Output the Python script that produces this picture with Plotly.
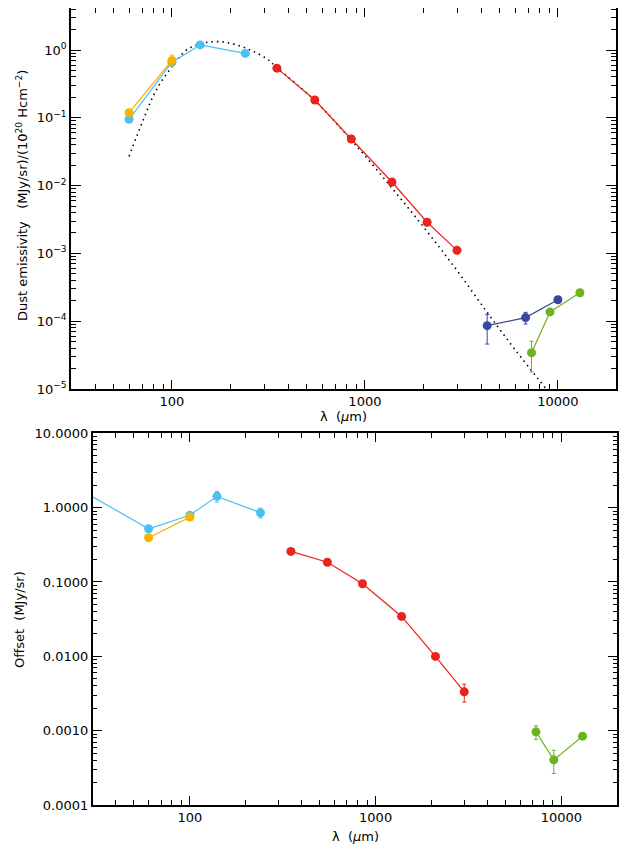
import plotly.graph_objects as go

# ---------------- data: top panel (dust emissivity) ----------------
cyan_lam = [60, 100, 140, 240]
cyan_emis = [0.095, 0.66, 1.19, 0.89]
cyan_emis_err = [0.004, 0.03, 0.05, 0.03]

orange_lam = [60, 100]
orange_emis = [0.119, 0.70]
orange_emis_err = [0.008, 0.14]

red_lam = [350, 550, 850, 1380, 2100, 3000]
red_emis = [0.54, 0.183, 0.0487, 0.0113, 0.00288, 0.00111]
red_emis_err = [0.01, 0.004, 0.001, 0.0003, 0.0001, 0.00005]

navy_lam = [4300, 6800, 10000]
navy_emis = [8.6e-5, 1.13e-4, 2.07e-4]
navy_emis_err = [4.0e-5, 2.2e-5, 0.5e-5]

green_lam = [7300, 9100, 13000]
green_emis = [3.43e-5, 1.37e-4, 2.63e-4]
green_emis_err = [1.65e-5, 0.4e-5, 0.5e-5]

model_lam = [60, 71, 83, 100, 119, 140, 171, 208, 254, 309, 350, 550, 850,
             1390, 2100, 3000, 4300, 6000, 8700]
model_emis = [0.027, 0.093, 0.257, 0.567, 1.0, 1.23, 1.33, 1.23, 1.0, 0.75,
              0.55, 0.18, 0.047, 0.009, 0.0021, 5.6e-4, 1.35e-4, 3.8e-5, 1.0e-5]

# ---------------- data: bottom panel (offset) ----------------
cyan_off_lam = [25, 60, 100, 140, 240]
cyan_off = [1.81, 0.52, 0.79, 1.42, 0.855]
cyan_off_err = [0.0, 0.03, 0.04, 0.23, 0.13]

orange_off_lam = [60, 100]
orange_off = [0.394, 0.746]
orange_off_err = [0.02, 0.03]

red_off_lam = [350, 550, 850, 1380, 2100, 3000]
red_off = [0.258, 0.184, 0.0946, 0.0344, 0.00998, 0.00333]
red_off_err = [0.005, 0.004, 0.002, 0.001, 0.0004, 0.0009]

green_off_lam = [7300, 9100, 13000]
green_off = [9.64e-4, 4.05e-4, 8.43e-4]
green_off_err = [2.0e-4, 1.4e-4, 0.2e-4]

# ---------------- ticks ----------------
x_major = [100, 1000, 10000]
x_major_text = ["100", "1000", "10000"]
x_minor = [m * d for d in (10, 100, 1000) for m in range(2, 10)] + [20000]
x_minor = [v for v in x_minor if v >= 30]

y1_major = [1e-5, 1e-4, 1e-3, 1e-2, 1e-1, 1]
y1_major_text = ["10<sup>−5</sup>", "10<sup>−4</sup>", "10<sup>−3</sup>",
                 "10<sup>−2</sup>", "10<sup>−1</sup>", "10<sup>0</sup>"]
y1_minor = [m * d for d in (1e-5, 1e-4, 1e-3, 1e-2, 1e-1, 1) for m in range(2, 10)]
y1_minor = [v for v in y1_minor if v <= 5]

y2_major = [1e-4, 1e-3, 1e-2, 1e-1, 1, 10]
y2_major_text = ["0.0001", "0.0010", "0.0100", "0.1000", "1.0000", "10.0000"]
y2_minor = [m * d for d in (1e-4, 1e-3, 1e-2, 1e-1, 1) for m in range(2, 10)]

CYAN = "#4cc0f0"
ORANGE = "#f7b500"
RED = "#e8241c"
NAVY = "#3a47a0"
GREEN = "#6cb41e"

FONT = "DejaVu Sans"

fig = go.Figure()


def add_series(lam, val, err, color, xa, ya, lw=1.2):
    fig.add_trace(go.Scatter(
        x=lam, y=val, mode="lines+markers", xaxis=xa, yaxis=ya,
        line=dict(color=color, width=lw),
        marker=dict(color=color, size=9, line=dict(width=0)),
        error_y=dict(type="data", array=err, color=color, thickness=1, width=2),
        showlegend=False, hoverinfo="skip"))


# top panel
fig.add_trace(go.Scatter(x=model_lam, y=model_emis, mode="lines", xaxis="x", yaxis="y",
                         line=dict(color="black", width=1.6, dash="1.5px,4px", shape="spline"),
                         showlegend=False, hoverinfo="skip"))
add_series(cyan_lam, cyan_emis, cyan_emis_err, CYAN, "x", "y")
add_series(orange_lam, orange_emis, orange_emis_err, ORANGE, "x", "y")
add_series(red_lam, red_emis, red_emis_err, RED, "x", "y")
add_series(navy_lam, navy_emis, navy_emis_err, NAVY, "x", "y")
add_series(green_lam, green_emis, green_emis_err, GREEN, "x", "y")

# bottom panel
add_series(cyan_off_lam, cyan_off, cyan_off_err, CYAN, "x2", "y2")
add_series(orange_off_lam, orange_off, orange_off_err, ORANGE, "x2", "y2")
add_series(red_off_lam, red_off, red_off_err, RED, "x2", "y2")
add_series(green_off_lam, green_off, green_off_err, GREEN, "x2", "y2")

# page body adds an 8px offset; figure fills the rest of the 632x850 window
OFF = 8
W, H = 632 - OFF, 850 - OFF


def fx(px):
    return min(1.0, max(0.0, (px - OFF) / W))


def fy(py):
    return min(1.0, max(0.0, 1 - (py - OFF) / H))


def xaxis(domain, anchor):
    return dict(type="log", range=[1.4771, 4.3010], domain=domain, anchor=anchor,
                tickmode="array", tickvals=x_major, ticktext=x_major_text,
                ticks="inside", ticklen=9, tickwidth=1, tickcolor="black",
                minor=dict(tickmode="array", tickvals=x_minor, ticks="inside",
                           ticklen=5, tickwidth=1, tickcolor="black"),
                showline=True, linecolor="black", linewidth=1.5, mirror="allticks",
                showgrid=False, zeroline=False, automargin=False,
                tickfont=dict(family=FONT, size=13, color="black"))


def yaxis(domain, anchor, rng, major, text, minor):
    return dict(type="log", range=rng, domain=domain, anchor=anchor,
                tickmode="array", tickvals=major, ticktext=text,
                ticks="inside", ticklen=10, tickwidth=1, tickcolor="black",
                minor=dict(tickmode="array", tickvals=minor, ticks="inside",
                           ticklen=5, tickwidth=1, tickcolor="black"),
                showline=True, linecolor="black", linewidth=1.5, mirror="allticks",
                showgrid=False, zeroline=False, automargin=False,
                tickfont=dict(family=FONT, size=13, color="black"))


top_x = [fx(71), fx(616)]
top_y = [fy(389), fy(8)]          # reference top at y=3; page offset limits it to 8
bot_x = [fx(92.7), fx(617.3)]
bot_y = [fy(805), fy(433.3)]

# keep the reference scale (67.8 px per decade, 1e-5 at y=389)
top_y_max = (389 - 8) / 67.8 - 5

fig.update_layout(
    width=W, height=H,
    margin=dict(l=0, r=0, t=0, b=0, pad=0, autoexpand=False),
    paper_bgcolor="white", plot_bgcolor="white",
    font=dict(family=FONT, size=13, color="black"),
    xaxis=xaxis(top_x, "y"),
    yaxis=yaxis(top_y, "x", [-5, top_y_max], y1_major, y1_major_text, y1_minor),
    xaxis2=xaxis(bot_x, "y2"),
    yaxis2=yaxis(bot_y, "x2", [-4, 1], y2_major, y2_major_text, y2_minor),
    annotations=[
        dict(text="λ  (<i>µ</i>m)", x=fx(343), y=fy(417),
             xref="paper", yref="paper", showarrow=False,
             font=dict(family=FONT, size=13), xanchor="center", yanchor="middle"),
        dict(text="λ  (<i>µ</i>m)", x=fx(355), y=fy(836),
             xref="paper", yref="paper", showarrow=False,
             font=dict(family=FONT, size=13), xanchor="center", yanchor="middle"),
        dict(text="Dust emissivity   (MJy/sr)/(10<sup>20</sup> Hcm<sup>−2</sup>)",
             x=fx(22), y=fy(196), xref="paper", yref="paper", showarrow=False,
             textangle=-90, font=dict(family=FONT, size=13),
             xanchor="center", yanchor="middle"),
        dict(text="Offset  (MJy/sr)",
             x=fx(19), y=fy(620), xref="paper", yref="paper", showarrow=False,
             textangle=-90, font=dict(family=FONT, size=13),
             xanchor="center", yanchor="middle"),
    ],
)

fig.write_html("out.html")
